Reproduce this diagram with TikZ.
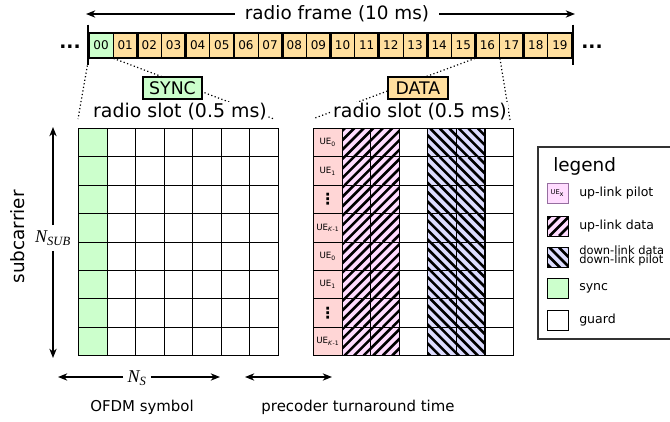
\documentclass[tikz,border=0pt]{standalone}
\usepackage{fontspec}
\setmainfont{DejaVu Sans}
\newfontfamily\mathserif{Liberation Serif}
\usetikzlibrary{arrows.meta,calc}

\definecolor{slotfill}{RGB}{255,223,158}
\definecolor{syncfill}{RGB}{204,255,204}
\definecolor{uefill}{RGB}{255,214,214}
\definecolor{ulfill}{RGB}{255,220,255}
\definecolor{dlfill}{RGB}{220,220,255}
\definecolor{pilotedge}{RGB}{150,110,160}

\newcommand{\vdotsmark}{{\bfseries\fontsize{11.5}{11.5}\selectfont ⋮}}

\begin{document}
\begin{tikzpicture}[x=0.75pt,y=-0.75pt,
  bigtext/.style={font=\fontsize{13.8}{16}\selectfont},
  slottext/.style={font=\fontsize{14.2}{16}\selectfont, fill=white, inner sep=1pt},
  slotbox/.style={draw, line width=0.6pt, fill=slotfill, minimum width=18.11pt,
    minimum height=18.75pt, inner sep=0pt, font=\fontsize{9}{10}\selectfont},
  pairbox/.style={draw, line width=1.5pt},
  framebar/.style={line width=1.6pt},
  cell/.style={draw, line width=0.8pt, minimum width=21.43pt, minimum height=21.28pt,
    inner sep=0pt, anchor=north west},
  hatch/.style={line width=1.9pt},
  plaincell/.style={fill=white},
  synccell/.style={fill=syncfill},
  uecell/.style={fill=uefill, font=\fontsize{6.5}{6.5}\selectfont},
  ulcell/.style={fill=ulfill, path picture={
      \foreach \t in {-45,-35.5,...,45}
        \draw[hatch] ($(path picture bounding box.south west)+(\t,0)$) -- ++(50,-50);}},
  dlcell/.style={fill=dlfill, path picture={
      \foreach \t in {-45,-35.5,...,45}
        \draw[hatch] ($(path picture bounding box.north west)+(\t,0)$) -- ++(50,50);}},
  arr/.style={-{Stealth[length=7pt,width=5.5pt]}, line width=0.9pt},
  twoarr/.style={{Stealth[length=7pt,width=5.5pt]}-{Stealth[length=7pt,width=5.5pt]}, line width=0.9pt},
  zoomline/.style={line width=0.9pt, dash pattern=on 0.9pt off 1.8pt},
  swatch/.style={draw, line width=0.6pt, minimum width=15.75pt, minimum height=15pt, inner sep=0pt},
  legtext/.style={anchor=west, font=\fontsize{9.4}{11}\selectfont, inner sep=0pt},
]
\useasboundingbox (0,0) rectangle (670,421);

% ---- radio frame: 20 slots ----
\node[slotbox, fill=syncfill] (s0) at ({89+24.15*0.5},45.5) {00};
\foreach \i in {1,...,19}{
  \node[slotbox] (s\i) at ({89+24.15*(\i+0.5)},45.5) {\ifnum\i<10 0\fi\i};
}
\foreach \k in {0,2,...,18}{
  \pgfmathtruncatemacro\kk{\k+1}
  \draw[pairbox] (s\k.north west) rectangle (s\kk.south east);
}
\draw[framebar] ($(s0.north west)+(-0.5,-8)$) -- ($(s0.south west)+(-0.5,7)$);
\draw[framebar] ($(s19.north east)+(0.5,-8)$) -- ($(s19.south east)+(0.5,7)$);
\node[font=\bfseries\fontsize{14}{14}\selectfont, anchor=base, inner sep=0pt] (dotsl) at (70,48) {...};
\node[font=\bfseries\fontsize{14}{14}\selectfont, anchor=base, inner sep=0pt] (dotsr) at (592,48) {...};

\node[bigtext, inner xsep=7.5pt] (frame) at (337,14) {radio frame (10 ms)};
\coordinate (fl) at (86,14);
\coordinate (fr) at (575,14);
\draw[arr] (frame) -- (fl);
\draw[arr] (frame) -- (fr);

% ---- slot grids ----
\foreach \c/\sty in {0/synccell,1/plaincell,2/plaincell,3/plaincell,4/plaincell,5/plaincell,6/plaincell}{
  \foreach \r in {0,...,7}{
    \node[cell,\sty] (L-\r-\c) at ({78+\c*28.571},{128+\r*28.375}) {};
  }
}
\foreach \c/\sty in {1/ulcell,2/ulcell,3/plaincell,4/dlcell,5/dlcell,6/plaincell}{
  \foreach \r in {0,...,7}{
    \node[cell,\sty] (R-\r-\c) at ({313+\c*28.571},{128+\r*28.375}) {};
  }
}
\foreach \r/\lab in {0/{UE\textsubscript{0}},1/{UE\textsubscript{1}},2/{\vdotsmark},3/{UE\textsubscript{\textit{K}-1}},
                     4/{UE\textsubscript{0}},5/{UE\textsubscript{1}},6/{\vdotsmark},7/{UE\textsubscript{\textit{K}-1}}}{
  \node[cell,uecell] (R-\r-0) at (313,{128+\r*28.375}) {\lab};
}

% ---- zoom lines from the slots to their grids ----
\coordinate (Ltl) at (78,119);
\coordinate (Ltr) at (274,119);
\coordinate (Rtl) at (315,118);
\coordinate (Rtr) at (510,120);
\draw[zoomline] (s0.south west) -- (Ltl);
\draw[zoomline] (s0.south east) -- (Ltr);
\draw[zoomline] (s16.south west) -- (Rtl);
\draw[zoomline] (s16.south east) -- (Rtr);

\node[draw, line width=0.8pt, fill=syncfill, minimum width=44.25pt, minimum height=16.5pt,
      inner sep=0pt, font=\fontsize{13}{15}\selectfont] (sync) at (172.5,88) {SYNC};
\node[draw, line width=0.8pt, fill=slotfill, minimum width=45pt, minimum height=16.5pt,
      inner sep=0pt, font=\fontsize{13}{15}\selectfont] (data) at (418,88) {DATA};
\node[slottext] (slotL) at (180,112) {radio slot (0.5 ms)};
\node[slottext] (slotR) at (420,112) {radio slot (0.5 ms)};

% ---- axes ----
\node[bigtext, rotate=90] (subc) at (18,237) {subcarrier};
\node[font=\mathserif\itshape\fontsize{13.5}{15}\selectfont, inner xsep=0pt, inner ysep=4pt] (nsub) at (53,238) {N\textsubscript{SUB}};
\coordinate (nt) at (53,127);
\coordinate (nb) at (53,358);
\draw[arr] (nsub) -- (nt);
\draw[arr] (nsub) -- (nb);

\node[font=\mathserif\itshape\fontsize{13.5}{15}\selectfont, inner xsep=3pt, inner ysep=0pt] (ns) at (137,378) {N\textsubscript{S}};
\coordinate (nsl) at (58,377);
\coordinate (nsr) at (220,377);
\draw[arr] (ns.west |- nsl) -- (nsl);
\draw[arr] (ns.east |- nsr) -- (nsr);

\coordinate (pa) at (245,377);
\coordinate (pb) at (332,377);
\draw[twoarr] (pa) -- (pb);

\node[font=\fontsize{11.2}{13}\selectfont] (ofdm) at (142,407) {OFDM symbol};
\node[font=\fontsize{11.2}{13}\selectfont] (prec) at (358,407) {precoder turnaround time};

% ---- legend ----
\draw[line width=0.8pt, draw=black!80] (538,147) rectangle (700,339);
\node[bigtext, anchor=west, inner sep=0pt] (legtitle) at (553,166) {legend};
\node[swatch, fill=ulfill, draw=pilotedge, font=\fontsize{5}{5}\selectfont] (k1) at (557.5,193) {UE\textsubscript{x}};
\node[swatch, ulcell] (k2) at (557.5,226) {};
\node[swatch, dlcell] (k3) at (557.5,257.5) {};
\node[swatch, fill=syncfill] (k4) at (557.5,288.5) {};
\node[swatch, fill=white] (k5) at (557.5,320.5) {};
\node[legtext] (t1) at (579,193) {up-link pilot};
\node[legtext] (t2) at (579,226) {up-link data};
\node[legtext, font=\fontsize{8.6}{7.2}\selectfont, align=left] (t3) at (579,256) {down-link data\\down-link pilot};
\node[legtext] (t4) at (579,288.5) {sync};
\node[legtext] (t5) at (579,320.5) {guard};
\end{tikzpicture}
\end{document}
